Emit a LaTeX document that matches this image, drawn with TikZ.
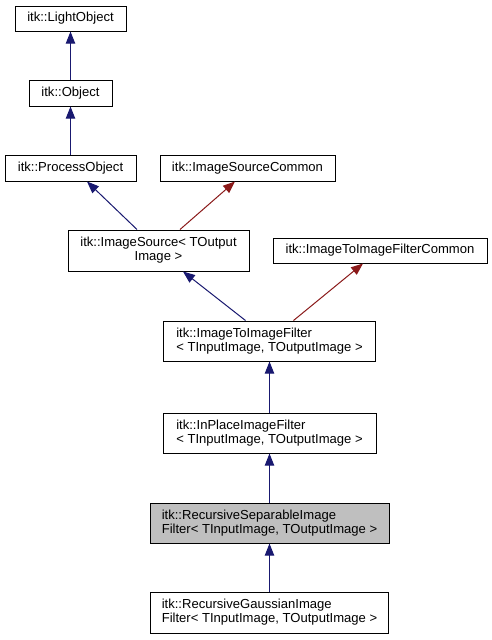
\documentclass[tikz,border=0pt]{standalone}
\usepackage{fontspec}
\setmainfont{Liberation Sans}
\usetikzlibrary{arrows.meta}
\definecolor{navyedge}{RGB}{25,25,112}
\definecolor{rededge}{RGB}{139,26,26}
\begin{document}
\begin{tikzpicture}[x=0.75pt,y=-0.75pt,
  box/.style={draw=black,line width=0.75pt,fill=white,inner sep=0pt,
    font=\fontsize{9.8}{10.5}\selectfont},
  blueedge/.style={draw=navyedge,line width=0.75pt,
    -{Triangle[length=9pt,width=7pt,fill=navyedge]}},
  redge/.style={draw=rededge,line width=0.75pt,
    -{Triangle[length=9pt,width=7pt,fill=rededge]}}]
\useasboundingbox[fill=white] (0,0) rectangle (492,640);
\node[box,minimum width=111*0.75pt,minimum height=25*0.75pt] (light) at (70.5,18.5) {itk::LightObject};
\node[box,minimum width=83*0.75pt,minimum height=26*0.75pt] (obj) at (70.5,93) {itk::Object};
\node[box,minimum width=131*0.75pt,minimum height=26*0.75pt] (proc) at (70.5,168) {itk::ProcessObject};
\node[box,minimum width=175*0.75pt,minimum height=26*0.75pt] (isc) at (247.5,168) {itk::ImageSourceCommon};
\node[box,minimum width=181*0.75pt,minimum height=41*0.75pt,align=center] (is) at (158.5,250.5) {itk::ImageSource\textless{} TOutput\\Image \textgreater{}};
\node[box,minimum width=214*0.75pt,minimum height=25*0.75pt] (itifc) at (380,250.5) {itk::ImageToImageFilterCommon};
\node[box,minimum width=212*0.75pt,minimum height=40*0.75pt,align=left] (itif) at (269.5,341) {itk::ImageToImageFilter\\\textless{} TInputImage, TOutputImage \textgreater{}};
\node[box,minimum width=213*0.75pt,minimum height=40*0.75pt,align=left] (inplace) at (269.5,433) {itk::InPlaceImageFilter\\\textless{} TInputImage, TOutputImage \textgreater{}};
\node[box,fill={rgb,255:red,191;green,191;blue,191},minimum width=239*0.75pt,minimum height=40*0.75pt,align=left] (recsep) at (269.5,523) {itk::RecursiveSeparableImage\\Filter\textless{} TInputImage, TOutputImage \textgreater{}};
\node[box,minimum width=238*0.75pt,minimum height=41*0.75pt,align=left] (gauss) at (269.5,612.5) {itk::RecursiveGaussianImage\\Filter\textless{} TInputImage, TOutputImage \textgreater{}};
\draw[blueedge] (obj.north) -- (light.south);
\draw[blueedge] (proc.north) -- (obj.south);
\draw[blueedge] ([xshift=-16.125pt]is.north) -- ([xshift=12.375pt]proc.south);
\draw[redge] ([xshift=16.125pt]is.north) -- ([xshift=-9.375pt]isc.south);
\draw[blueedge] ([xshift=-18pt]itif.north) -- ([xshift=18.375pt]is.south);
\draw[redge] ([xshift=18pt]itif.north) -- ([xshift=-12.75pt]itifc.south);
\draw[blueedge] (inplace.north) -- (itif.south);
\draw[blueedge] (recsep.north) -- (inplace.south);
\draw[blueedge] (gauss.north) -- (recsep.south);
\end{tikzpicture}
\end{document}
